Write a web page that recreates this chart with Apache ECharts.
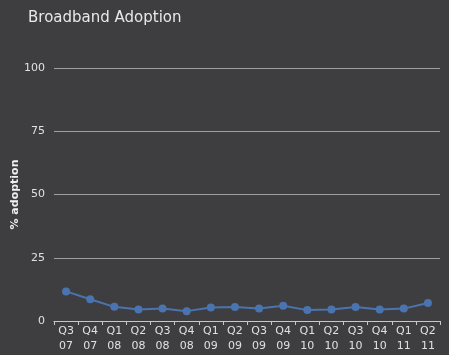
<!DOCTYPE html>
<html>
<head>
<meta charset="utf-8">
<script src="https://cdn.jsdelivr.net/npm/echarts@6/dist/echarts.min.js"></script>
<style>
html,body{margin:0;padding:0;background:#3e3e40;}
#chart{width:449px;height:355px;}
</style>
</head>
<body>
<div id="chart"></div>
<script>
var categories = ["Q3\n07","Q4\n07","Q1\n08","Q2\n08","Q3\n08","Q4\n08","Q1\n09","Q2\n09","Q3\n09","Q4\n09","Q1\n10","Q2\n10","Q3\n10","Q4\n10","Q1\n11","Q2\n11"];
var adoption = [11.7, 8.6, 5.6, 4.5, 4.9, 3.9, 5.3, 5.5, 4.9, 6.0, 4.3, 4.5, 5.5, 4.5, 4.9, 7.1];
var yTicks = [0, 25, 50, 75, 100];

var chart = echarts.init(document.getElementById('chart'));
var font = '"DejaVu Sans", sans-serif';
chart.setOption({
  backgroundColor: '#3e3e40',
  animation: false,
  title: {
    text: 'Broadband Adoption',
    left: 23, top: 6,
    textStyle: { color: '#e8e8e8', fontSize: 15, fontWeight: 'normal', fontFamily: font }
  },
  grid: { left: 54, right: 9, top: 68, bottom: 34, containLabel: false, outerBoundsMode: 'none' },
  xAxis: {
    type: 'category',
    data: categories,
    boundaryGap: true,
    axisLine: { lineStyle: { color: '#c8c8c8', width: 1 } },
    axisTick: { show: true, length: 4, lineStyle: { color: '#c8c8c8' } },
    axisLabel: { color: '#e0e0e0', fontSize: 11, fontFamily: font, lineHeight: 15, margin: 3, interval: 0 }
  },
  yAxis: {
    type: 'value',
    min: yTicks[0], max: yTicks[yTicks.length - 1], interval: 25,
    name: '% adoption',
    nameLocation: 'middle',
    nameGap: 33,
    nameMoveOverlap: false,
    nameTextStyle: { color: '#f0f0f0', fontSize: 11, fontWeight: 'bold', fontFamily: font },
    axisLine: { show: false },
    axisTick: { show: false },
    splitLine: { lineStyle: { color: '#a0a0a0', width: 1 } },
    axisLabel: { color: '#e0e0e0', fontSize: 11, fontFamily: font, margin: 9 }
  },
  series: [{
    type: 'line',
    data: adoption,
    symbol: 'circle',
    symbolSize: 8,
    itemStyle: { color: '#4a74b0' },
    lineStyle: { color: '#4a74b0', width: 2 }
  }]
});
</script>
</body>
</html>
